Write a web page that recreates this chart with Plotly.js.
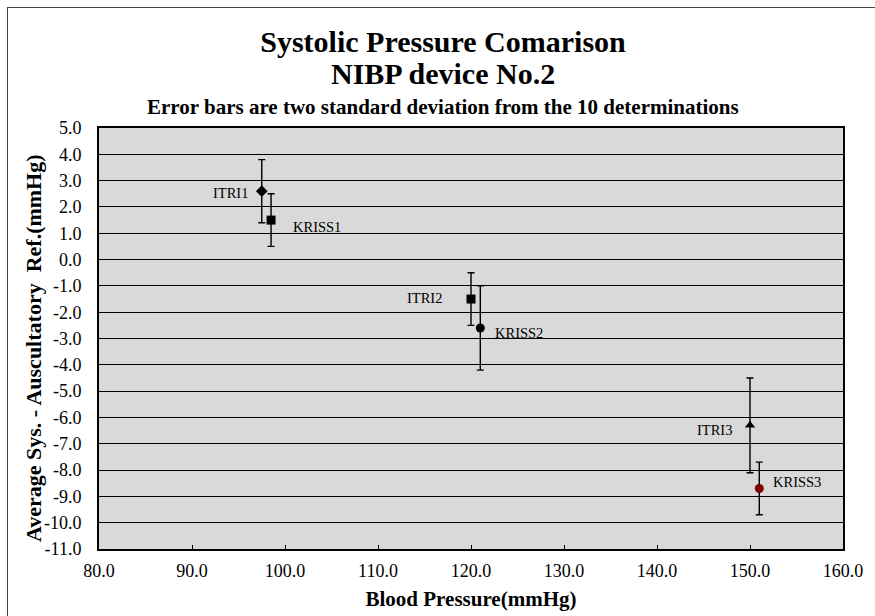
<!DOCTYPE html>
<html>
<head>
<meta charset="utf-8">
<script src="https://cdn.plot.ly/plotly-3.0.1.min.js"></script>
<style>
  html, body { margin: 0; padding: 0; background: #fff; }
  #wrap { position: relative; width: 875px; height: 616px; overflow: hidden; }
  #chart { position: absolute; left: 0; top: 0; width: 875px; height: 616px; }
  .frameTop { position: absolute; left: 7px; top: 7px; width: 868px; height: 0; border-top: 1px solid #444; pointer-events: none; }
  .frameLeft { position: absolute; left: 7px; top: 7px; width: 0; height: 609px; border-left: 1px solid #444; pointer-events: none; }
</style>
</head>
<body>
<div id="wrap">
  <div id="chart"></div>
  <div class="frameTop"></div>
  <div class="frameLeft"></div>
</div>
<script>
// ---- data ----
const pointNames = ['ITRI1', 'KRISS1', 'ITRI2', 'KRISS2', 'ITRI3', 'KRISS3'];
const bloodPressure = [97.5, 98.5, 120.0, 121.0, 150.0, 151.0];
const avgDifference = [2.6, 1.5, -1.5, -2.6, -6.3, -8.7];
const twoStdDev = [1.2, 1.0, 1.0, 1.6, 1.8, 1.0];

const xTickValues = [80, 90, 100, 110, 120, 130, 140, 150, 160];
const xTickLabels = ['80.0', '90.0', '100.0', '110.0', '120.0', '130.0', '140.0', '150.0', '160.0'];
const yTickValues = [5, 4, 3, 2, 1, 0, -1, -2, -3, -4, -5, -6, -7, -8, -9, -10, -11];
const yTickLabels = ['5.0', '4.0', '3.0', '2.0', '1.0', '0.0', '-1.0', '-2.0', '-3.0', '-4.0', '-5.0',
                     '-6.0', '-7.0', '-8.0', '-9.0', '-10.0', '-11.0'];

// ---- styles ----
const markerSymbols = ['diamond', 'square', 'square', 'circle', 'triangle-up', 'circle'];
const markerSizes = [9, 9, 9, 9, 9, 9];
const markerColors = ['#000000', '#000000', '#000000', '#000000', '#000000', '#800000'];
const labelAnchor = ['right', 'left', 'right', 'left', 'right', 'left'];
const labelXShift = [-12, 20, -27, 13, -16, 12];
const labelYShift = [-2, -6.5, 1, -5.5, -4.5, 6];

const FONT = '"Liberation Serif", "Times New Roman", Times, serif';

const traces = pointNames.map((name, i) => ({
  type: 'scatter',
  mode: 'markers',
  name: name,
  x: [bloodPressure[i]],
  y: [avgDifference[i]],
  error_y: { type: 'data', array: [twoStdDev[i]], visible: true, color: '#000', thickness: 1.4, width: 3.5 },
  marker: { symbol: markerSymbols[i], size: markerSizes[i], color: markerColors[i], line: { width: 0 } },
  showlegend: false,
  hoverinfo: 'x+y+name'
}));

const pointLabels = pointNames.map((name, i) => ({
  x: bloodPressure[i], y: avgDifference[i], xref: 'x', yref: 'y',
  text: name, showarrow: false,
  xanchor: labelAnchor[i], yanchor: 'middle',
  xshift: labelXShift[i], yshift: labelYShift[i],
  font: { family: FONT, size: 14.5, color: '#000' }
}));

const extraText = [
  { x: 0.4624, y: 1.1306, xref: 'paper', yref: 'paper', xanchor: 'center', yanchor: 'middle',
    text: '<b>NIBP device No.2</b>', showarrow: false, font: { family: FONT, size: 30, color: '#000' } },
  { x: 0.4624, y: 1.05, xref: 'paper', yref: 'paper', xanchor: 'center', yanchor: 'middle',
    text: '<b>Error bars are two standard deviation from the 10 determinations</b>', showarrow: false,
    font: { family: FONT, size: 21, color: '#000' } },
  { x: -0.0887, y: 0.4774, xref: 'paper', yref: 'paper', xanchor: 'center', yanchor: 'middle',
    textangle: -90,
    text: '<b>Average Sys. - Auscultatory &nbsp;Ref.(mmHg)</b>', showarrow: false,
    font: { family: FONT, size: 22, color: '#000' } }
];

const layout = {
  width: 875, height: 616,
  margin: { l: 99, r: 32, t: 128, b: 67, pad: 0 },
  paper_bgcolor: '#ffffff',
  plot_bgcolor: '#d9d9d9',
  font: { family: FONT, color: '#000', size: 18 },
  title: {
    text: '<b>Systolic Pressure Comarison</b>',
    font: { family: FONT, size: 30, color: '#000' },
    x: 0.5063, xanchor: 'center', xref: 'container',
    y: 0.932, yanchor: 'middle', yref: 'container'
  },
  xaxis: {
    range: [80, 160], tickmode: 'array', tickvals: xTickValues, ticktext: xTickLabels,
    ticks: 'inside', ticklen: 4, tickwidth: 1, tickcolor: '#000',
    showgrid: false, zeroline: false,
    showline: true, linecolor: '#000', linewidth: 2, mirror: true,
    tickfont: { family: FONT, size: 18, color: '#000' },
    ticklabelstandoff: 4,
    title: { text: '<b>Blood Pressure(mmHg)</b>', font: { family: FONT, size: 21, color: '#000' }, standoff: 12 }
  },
  yaxis: {
    range: [-11, 5], tickmode: 'array', tickvals: yTickValues, ticktext: yTickLabels,
    ticks: '', showgrid: true, gridcolor: '#000', gridwidth: 1, zeroline: false,
    showline: true, linecolor: '#000', linewidth: 2, mirror: true,
    tickfont: { family: FONT, size: 18, color: '#000' },
    ticklabelstandoff: 12
  },
  annotations: extraText.concat(pointLabels),
  showlegend: false
};

Plotly.newPlot('chart', traces, layout, { displayModeBar: false, responsive: false });
</script>
</body>
</html>
